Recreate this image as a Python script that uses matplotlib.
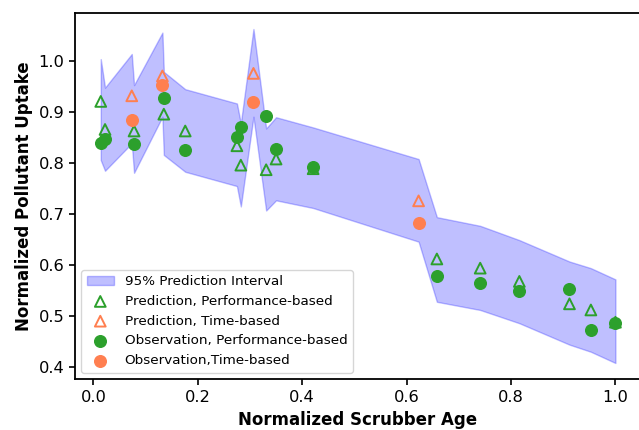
import numpy as np
import matplotlib
matplotlib.use('Agg')
import matplotlib.pyplot as plt

# prediction interval (band evaluated at each scrubber age)
band_x = [0.0142, 0.0224, 0.0736, 0.078, 0.1323, 0.135, 0.176, 0.275, 0.2825, 0.3067,
          0.331, 0.350, 0.421, 0.623, 0.658, 0.741, 0.816, 0.912, 0.953, 1.0]
band_hi = [1.003, 0.947, 1.013, 0.952, 1.055, 0.978, 0.944, 0.916, 0.877, 1.062,
           0.867, 0.889, 0.869, 0.807, 0.693, 0.676, 0.648, 0.606, 0.593, 0.571]
band_lo = [0.805, 0.784, 0.838, 0.780, 0.890, 0.815, 0.782, 0.754, 0.714, 0.890,
           0.706, 0.726, 0.711, 0.645, 0.527, 0.511, 0.485, 0.443, 0.429, 0.407]

# performance-based
perf_x = [0.0142, 0.0224, 0.078, 0.135, 0.176, 0.275, 0.2825, 0.331, 0.350, 0.421,
          0.658, 0.741, 0.816, 0.912, 0.953, 1.0]
perf_pred = [0.920, 0.865, 0.862, 0.895, 0.862, 0.833, 0.795, 0.786, 0.807, 0.788,
             0.611, 0.593, 0.567, 0.523, 0.511, 0.487]
perf_obs = [0.838, 0.846, 0.836, 0.927, 0.825, 0.851, 0.869, 0.892, 0.826, 0.792,
            0.578, 0.564, 0.548, 0.552, 0.471, 0.486]

# time-based
time_x = [0.0736, 0.1323, 0.3067, 0.623]
time_pred = [0.931, 0.970, 0.975, 0.725]
time_obs = [0.884, 0.952, 0.918, 0.681]

green = '#2ca02c'
orange = '#ff7f50'

fig = plt.figure(figsize=(6.39, 4.30), dpi=100)
ax = fig.add_axes([74.7 / 639, 1 - 379.3 / 430, (641 - 74.7) / 639, (379.3 - 12.7) / 430])

ax.fill_between(band_x, band_lo, band_hi, color='blue', alpha=0.25,
                label='95% Prediction Interval')
ax.scatter(perf_x, perf_pred, marker='^', s=60, facecolors='none', edgecolors=green,
           linewidths=1.4, label='Prediction, Performance-based', zorder=3)
ax.scatter(time_x, time_pred, marker='^', s=60, facecolors='none', edgecolors=orange,
           linewidths=1.4, label='Prediction, Time-based', zorder=3)
ax.scatter(perf_x, perf_obs, marker='o', s=70, color=green,
           label='Observation, Performance-based', zorder=3)
ax.scatter(time_x, time_obs, marker='o', s=70, color=orange,
           label='Observation,Time-based', zorder=3)

ax.set_xlim(-0.0357, 1.049)
ax.set_ylim(0.375, 1.094)
ax.set_xticks([0.0, 0.2, 0.4, 0.6, 0.8, 1.0])
ax.set_yticks([0.4, 0.5, 0.6, 0.7, 0.8, 0.9, 1.0])
ax.tick_params(labelsize=11.7, width=1.2, length=4)
for sp in ax.spines.values():
    sp.set_linewidth(1.3)

ax.set_xlabel('Normalized Scrubber Age', fontsize=12, fontweight='bold', labelpad=4.5)
ax.set_ylabel('Normalized Pollutant Uptake', fontsize=12, fontweight='bold')
ax.legend(loc='lower left', fontsize=9.7)

fig.savefig('out.png', dpi=100)
